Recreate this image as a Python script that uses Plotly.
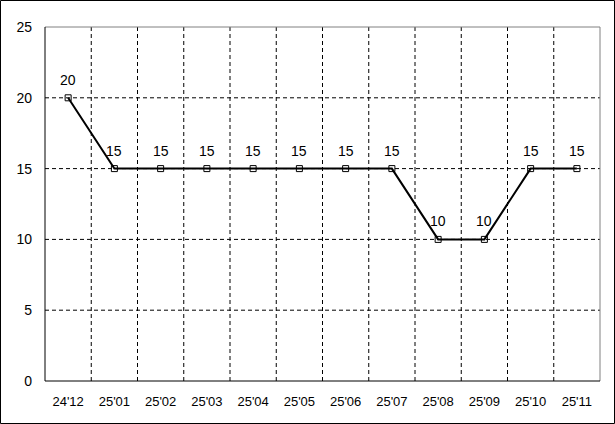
import plotly.graph_objects as go

categories = ["24'12", "25'01", "25'02", "25'03", "25'04", "25'05", "25'06", "25'07", "25'08", "25'09", "25'10", "25'11"]
values = [20, 15, 15, 15, 15, 15, 15, 15, 10, 10, 15, 15]
y_ticks = [0, 5, 10, 15, 20, 25]

W, H = 615, 424
ML, MR, MT, MB = 45, 15, 27, 43
pw, ph = W - ML - MR, H - MT - MB

n = len(categories)
xs = list(range(n))
FAM = "Liberation Sans, Arial, sans-serif"
DASH = "4px,3px"

fig = go.Figure()
fig.add_trace(go.Scatter(
    x=xs, y=values, mode="lines+markers",
    line=dict(color="black", width=2),
    marker=dict(symbol="square-open", size=6, color="black", line=dict(width=1, color="black")),
    cliponaxis=False, showlegend=False,
))

annotations = [dict(x=x, y=v, xref="x", yref="y", text=str(v), showarrow=False,
                    yshift=18, font=dict(family=FAM, size=14, color="black"))
               for x, v in zip(xs, values)]

shapes = []
for k in range(n - 1):
    shapes.append(dict(type="line", xref="x", yref="y", x0=k + 0.5, x1=k + 0.5, y0=0, y1=25,
                       line=dict(color="black", width=1, dash=DASH), layer="below"))
for t in y_ticks[1:-1]:
    shapes.append(dict(type="line", xref="x", yref="y", x0=-0.5, x1=n - 0.5, y0=t, y1=t,
                       line=dict(color="black", width=1, dash=DASH), layer="below"))
shapes.append(dict(type="line", xref="paper", yref="paper", x0=0, x1=1, y0=1, y1=1, line=dict(color="#808080", width=1)))
shapes.append(dict(type="line", xref="paper", yref="paper", x0=1, x1=1, y0=0, y1=1, line=dict(color="#808080", width=1)))
shapes.append(dict(type="line", xref="paper", yref="paper", x0=0, x1=0, y0=0, y1=1, line=dict(color="black", width=1)))
shapes.append(dict(type="line", xref="paper", yref="paper", x0=0, x1=1, y0=0, y1=0, line=dict(color="black", width=1)))
shapes.append(dict(type="rect", xref="paper", yref="paper",
                   x0=(-ML + 0.5) / pw, x1=1 + (MR - 0.5) / pw,
                   y0=(-MB + 0.5) / ph, y1=1 + (MT - 0.5) / ph,
                   line=dict(color="black", width=1)))

fig.update_layout(
    template="none",
    width=W, height=H,
    margin=dict(l=ML, r=MR, t=MT, b=MB, pad=0),
    paper_bgcolor="white", plot_bgcolor="white",
    font=dict(family=FAM, size=13, color="black"),
    shapes=shapes,
    annotations=annotations,
    xaxis=dict(range=[-0.5, n - 0.5], tickvals=xs, ticktext=categories, showgrid=False,
               zeroline=False, showline=False, ticks="", ticklabelstandoff=11,
               automargin=False, fixedrange=True, tickfont=dict(size=13)),
    yaxis=dict(range=[0, 25], tickvals=y_ticks, showgrid=False, zeroline=False, showline=False,
               ticks="", ticklabelstandoff=12, tickfont=dict(size=14),
               automargin=False, fixedrange=True),
)

fig.write_html("out.html", config={"displayModeBar": False},
               post_script="document.body.style.margin='0';document.body.style.overflow='hidden';")
